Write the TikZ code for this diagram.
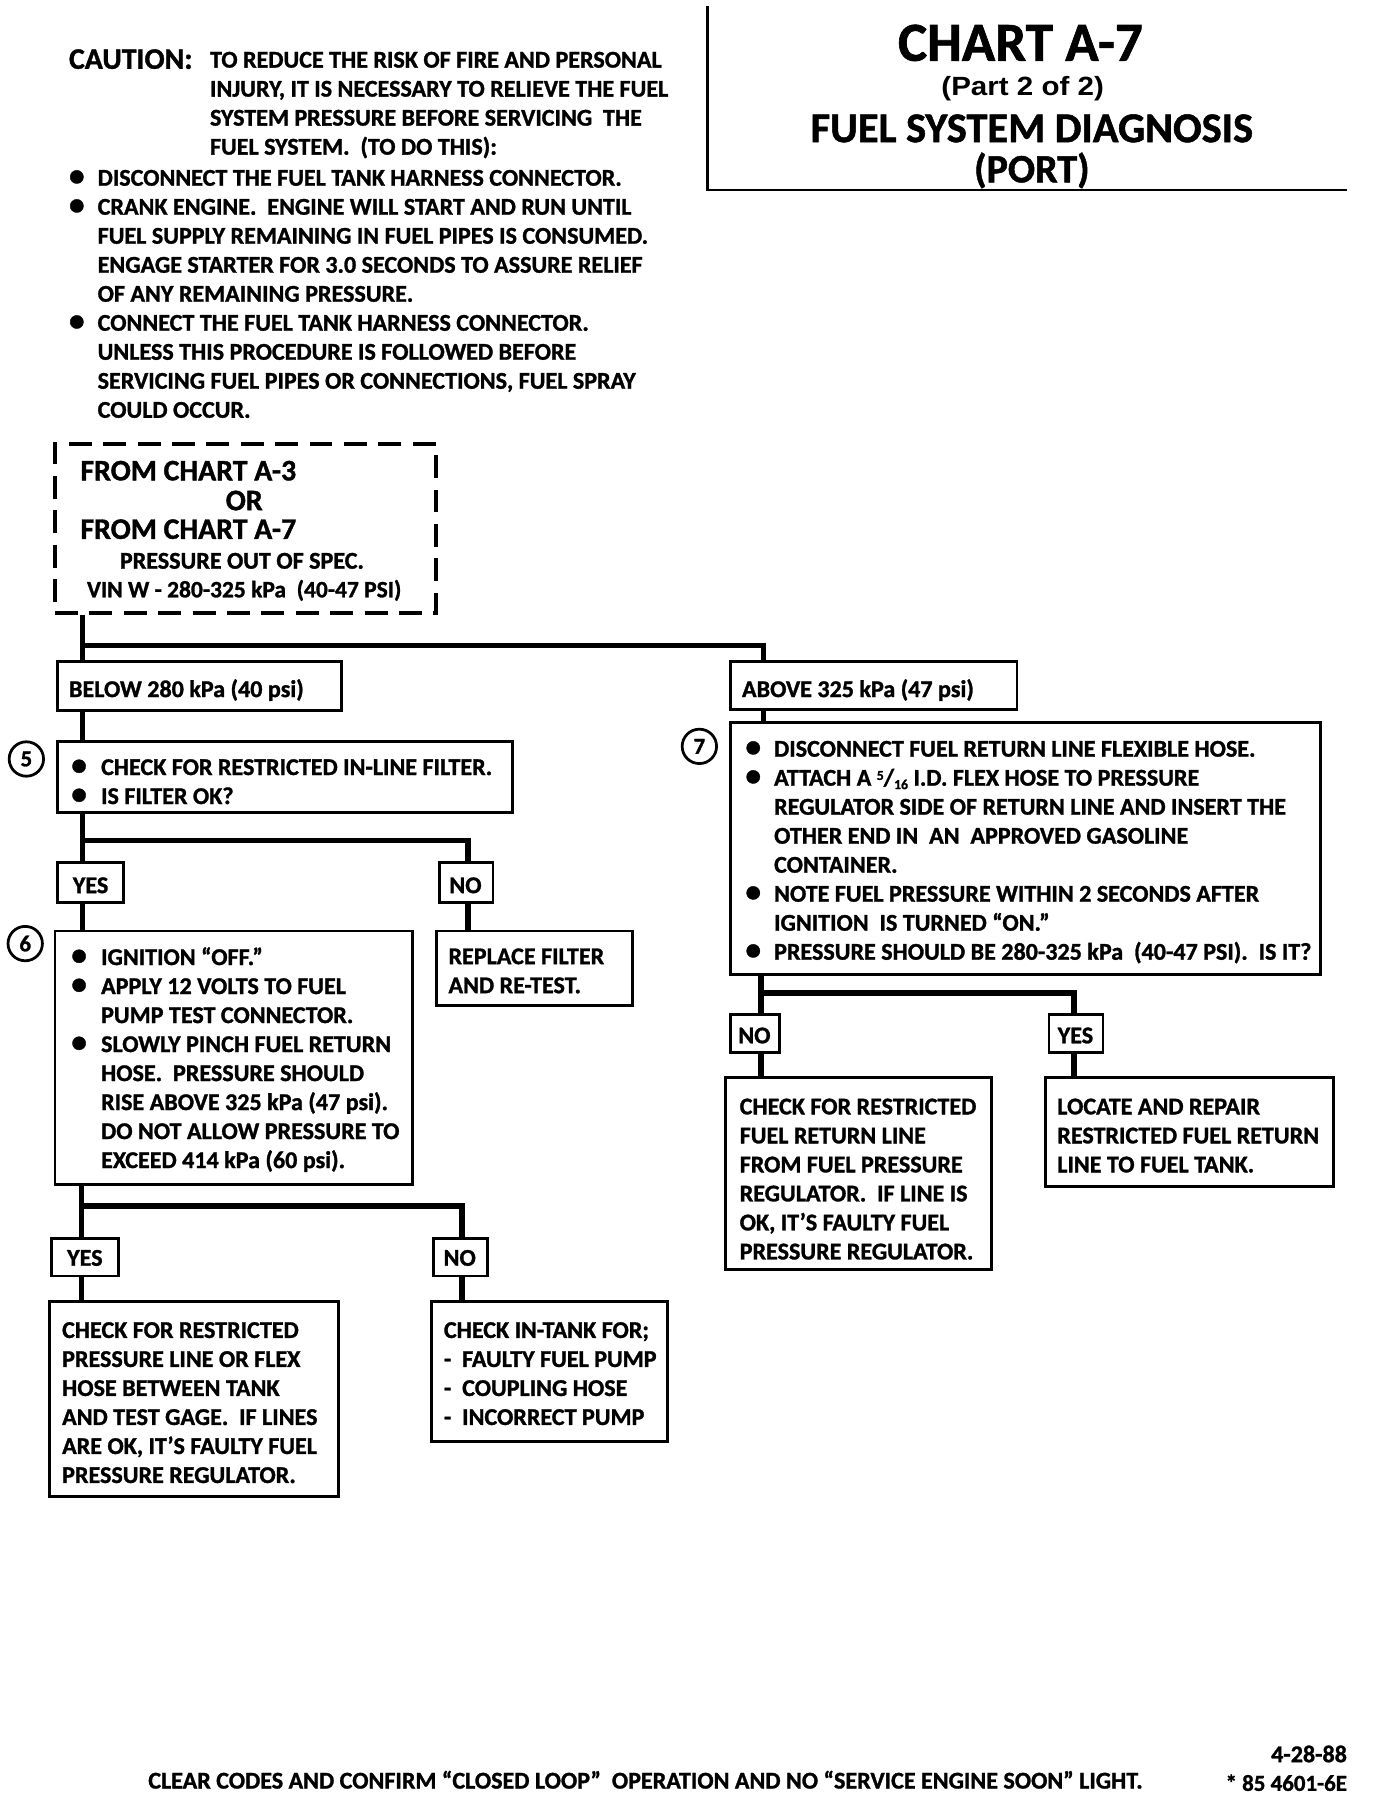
\documentclass[tikz,border=0pt]{standalone}
\usepackage{fontspec}
\setmainfont{Carlito}[BoldFeatures={FakeBold=1.2}]
\newfontfamily\hel{Liberation Sans}[FakeStretch=1.12]
\usetikzlibrary{fit}
\tikzset{
 bx/.style={draw, line width=2.5pt, inner sep=0pt, rectangle},
 dbx/.style={draw, line width=3.5pt, inner sep=0pt, rectangle, dash pattern=on 20pt off 10pt},
 conn/.style={line width=5pt},
 txt/.style={inner sep=0pt, align=left, anchor=north west, font=\fontsize{21}{25.3}\selectfont\bfseries},
 lbl/.style={inner sep=0pt, anchor=base west, font=\fontsize{21}{25.3}\selectfont\bfseries},
 clbl/.style={inner sep=0pt, anchor=base, font=\fontsize{21}{25.3}\selectfont\bfseries},
 num/.style={circle, draw, line width=2.4pt, minimum size=30pt, inner sep=0pt, font=\fontsize{20}{20}\selectfont\bfseries},
}
\newcommand{\bul}[1][26pt]{\makebox[#1][l]{\scalebox{1.3}{\textbullet}}}
\newcommand{\ind}[1][26pt]{\hspace*{#1}}
\begin{document}
\begin{tikzpicture}[x=1pt,y=-1pt]
\fill[white] (0,0) rectangle (1200,1570);
\useasboundingbox (0,0) rectangle (1200,1570);

% ---------- caution ----------
\node[lbl, font=\fontsize{26}{26}\selectfont\bfseries] (caution) at (60,60) {CAUTION:};
\node[txt] (cbody) at (183,45) {TO REDUCE THE RISK OF FIRE AND PERSONAL\\
INJURY, IT IS NECESSARY TO RELIEVE THE FUEL\\
SYSTEM PRESSURE BEFORE SERVICING \ THE\\
FUEL SYSTEM. \ (TO DO THIS):};
\node[txt] (clist) at (60,148) {\bul[25pt]DISCONNECT THE FUEL TANK HARNESS CONNECTOR.\\
\bul[25pt]CRANK ENGINE. \ ENGINE WILL START AND RUN UNTIL\\
\ind[25pt]FUEL SUPPLY REMAINING IN FUEL PIPES IS CONSUMED.\\
\ind[25pt]ENGAGE STARTER FOR 3.0 SECONDS TO ASSURE RELIEF\\
\ind[25pt]OF ANY REMAINING PRESSURE.\\
\bul[25pt]CONNECT THE FUEL TANK HARNESS CONNECTOR.\\
\ind[25pt]UNLESS THIS PROCEDURE IS FOLLOWED BEFORE\\
\ind[25pt]SERVICING FUEL PIPES OR CONNECTIONS, FUEL SPRAY\\
\ind[25pt]COULD OCCUR.};

% ---------- title ----------
\draw[line width=2pt] (617,5) -- (617,166) -- (1175,166);
\node[inner sep=0pt, anchor=base, font=\fontsize{48}{48}\selectfont\bfseries] (title) at (890,53) {CHART A-7};
\node[inner sep=0pt, anchor=base, font=\hel\fontsize{23}{23}\selectfont\bfseries] (part) at (892,83) {(Part 2 of 2)};
\node[inner sep=0pt, anchor=base, font=\fontsize{37}{37}\selectfont\bfseries] (fsd) at (900,124) {FUEL SYSTEM DIAGNOSIS};
\node[inner sep=0pt, anchor=base, font=\fontsize{35}{35}\selectfont\bfseries] (port) at (900,159) {(PORT)};

% ---------- start box ----------
\node[dbx, fit={(48,387) (380,535)}] (dash) {};
\node[lbl, font=\fontsize{26}{26}\selectfont\bfseries] (fa3) at (70,419) {FROM CHART A-3};
\node[clbl, font=\fontsize{26}{26}\selectfont\bfseries] (for) at (213,445) {OR};
\node[lbl, font=\fontsize{26}{26}\selectfont\bfseries] (fa7) at (70,470) {FROM CHART A-7};
\node[clbl, font=\fontsize{21}{21}\selectfont\bfseries] (pos) at (211,496) {PRESSURE OUT OF SPEC.};
\node[clbl, font=\fontsize{20.5}{20.5}\selectfont\bfseries] (vin) at (213,521) {VIN W - 280-325 kPa \ (40-47 PSI)};

% ---------- boxes ----------
\node[bx, fit={(50,577) (298,620)}] (below) {};
\node[lbl] (belowt) at (60,608) {BELOW 280 kPa (40 psi)};
\node[bx, fit={(637,577) (887,619)}] (above) {};
\node[lbl] (abovet) at (647,608) {ABOVE 325 kPa (47 psi)};

\node[bx, fit={(50,647) (447,709)}] (b5) {};
\node[num] (n5) at (23,662) {5};
\node[txt] (b5t) at (62,662) {\bul CHECK FOR RESTRICTED IN-LINE FILTER.\\
\bul IS FILTER OK?};

\node[bx, fit={(50,752) (108,787)}] (yes1) {};
\node[clbl] (yes1t) at (79,779) {YES};
\node[bx, fit={(383,752) (430,787)}] (no1) {};
\node[clbl] (no1t) at (406,779) {NO};

\node[bx, fit={(48,812) (360,1033)}] (b6) {};
\node[num] (n6) at (22,823) {6};
\node[txt] (b6t) at (62,826) {\bul IGNITION “OFF.”\\
\bul APPLY 12 VOLTS TO FUEL\\
\ind PUMP TEST CONNECTOR.\\
\bul SLOWLY PINCH FUEL RETURN\\
\ind HOSE. \ PRESSURE SHOULD\\
\ind RISE ABOVE 325 kPa (47 psi).\\
\ind DO NOT ALLOW PRESSURE TO\\
\ind EXCEED 414 kPa (60 psi).};

\node[bx, fit={(381,812) (552,877)}] (repl) {};
\node[txt] (replt) at (391,827) {REPLACE FILTER\\AND RE-TEST.};

\node[bx, fit={(45,1080) (103,1113)}] (yes2) {};
\node[clbl] (yes2t) at (74,1104) {YES};
\node[bx, fit={(378,1080) (425,1113)}] (no2) {};
\node[clbl] (no2t) at (401,1104) {NO};

\node[bx, fit={(43,1135) (295,1305)}] (r2y) {};
\node[txt] (r2yt) at (54,1153) {CHECK FOR RESTRICTED\\
PRESSURE LINE OR FLEX\\
HOSE BETWEEN TANK\\
AND TEST GAGE. \ IF LINES\\
ARE OK, IT’S FAULTY FUEL\\
PRESSURE REGULATOR.};

\node[bx, fit={(376,1135) (582,1257)}] (r2n) {};
\node[txt] (r2nt) at (387,1153) {CHECK IN-TANK FOR;\\
- \ FAULTY FUEL PUMP\\
- \ COUPLING HOSE\\
- \ INCORRECT PUMP};

\node[bx, fit={(637,630) (1152,850)}] (b7) {};
\node[num] (n7) at (610,651) {7};
\node[txt] (b7t) at (650,646) {\bul[25pt]DISCONNECT FUEL RETURN LINE FLEXIBLE HOSE.\\
\bul[25pt]ATTACH A \raisebox{5pt}{\fontsize{12}{12}\selectfont 5}/\raisebox{-3pt}{\fontsize{12}{12}\selectfont 16} I.D. FLEX HOSE TO PRESSURE\\
\ind[25pt]REGULATOR SIDE OF RETURN LINE AND INSERT THE\\
\ind[25pt]OTHER END IN \ AN \ APPROVED GASOLINE\\
\ind[25pt]CONTAINER.\\
\bul[25pt]NOTE FUEL PRESSURE WITHIN 2 SECONDS AFTER\\
\ind[25pt]IGNITION \ IS TURNED “ON.”\\
\bul[25pt]PRESSURE SHOULD BE 280-325 kPa \ (40-47 PSI). \ IS IT?};

\node[bx, fit={(637,885) (680,918)}] (no3) {};
\node[clbl] (no3t) at (658,910) {NO};
\node[bx, fit={(915,885) (962,918)}] (yes3) {};
\node[clbl] (yes3t) at (938,910) {YES};

\node[bx, fit={(633,940) (865,1107)}] (r3n) {};
\node[txt] (r3nt) at (645,958) {CHECK FOR RESTRICTED\\
FUEL RETURN LINE\\
FROM FUEL PRESSURE\\
REGULATOR. \ IF LINE IS\\
OK, IT’S FAULTY FUEL\\
PRESSURE REGULATOR.};

\node[bx, fit={(912,940) (1163,1035)}] (r3y) {};
\node[txt] (r3yt) at (922,958) {LOCATE AND REPAIR\\
RESTRICTED FUEL RETURN\\
LINE TO FUEL TANK.};

% ---------- connectors ----------
\coordinate (j1) at (72,563);
\coordinate (j2) at (666,563);
\draw[conn] (dash.south -| j1) -- (below.north -| j1);
\draw[conn] (j1) -- (j2) -- (above.north -| j2);
\draw[conn] (below.south -| j1) -- (b5.north -| j1);
\draw[conn] (above.south -| j2) -- (b7.north -| j2);

\coordinate (j3) at (72,733);
\coordinate (j4) at (408,733);
\draw[conn] (b5.south -| j3) -- (yes1.north -| j3);
\draw[conn] (j3) -- (j4) -- (no1.north -| j4);
\draw[conn] (yes1.south -| j3) -- (b6.north -| j3);
\draw[conn] (no1.south -| j4) -- (repl.north -| j4);

\coordinate (j5) at (71,1052);
\coordinate (j6) at (403,1052);
\draw[conn] (b6.south -| j5) -- (yes2.north -| j5);
\draw[conn] (j5) -- (j6) -- (no2.north -| j6);
\draw[conn] (yes2.south -| j5) -- (r2y.north -| j5);
\draw[conn] (no2.south -| j6) -- (r2n.north -| j6);

\coordinate (j7) at (664,866);
\coordinate (j8) at (937,866);
\draw[conn] (b7.south -| j7) -- (no3.north -| j7);
\draw[conn] (j7) -- (j8) -- (yes3.north -| j8);
\draw[conn] (no3.south -| j7) -- (r3n.north -| j7);
\draw[conn] (yes3.south -| j8) -- (r3y.north -| j8);

% ---------- footer ----------
\node[clbl, font=\fontsize{21}{21}\selectfont\bfseries] (foot) at (563,1560) {CLEAR CODES AND CONFIRM “CLOSED LOOP” \ OPERATION AND NO “SERVICE ENGINE SOON” LIGHT.};
\node[inner sep=0pt, anchor=base east, font=\fontsize{21}{21}\selectfont\bfseries] (date) at (1175,1537) {4-28-88};
\node[inner sep=0pt, anchor=base east, font=\fontsize{20}{20}\selectfont\bfseries] (code) at (1175,1562) {* 85 4601-6E};
\end{tikzpicture}
\end{document}
